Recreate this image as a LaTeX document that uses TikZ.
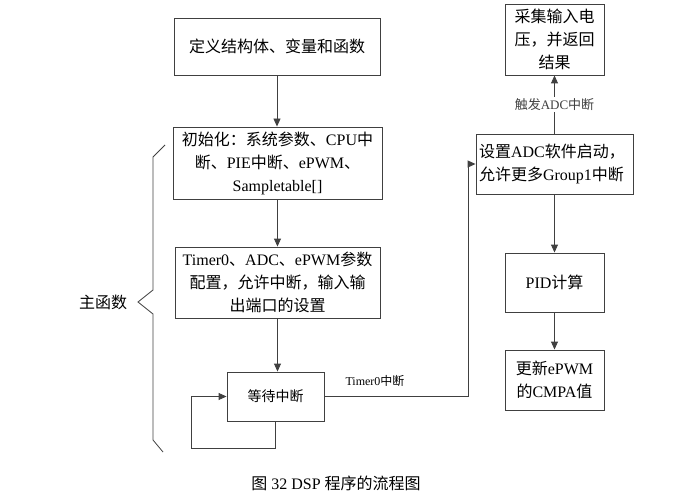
\documentclass[tikz,border=0pt]{standalone}
\usepackage{fontspec}
\setmainfont{Liberation Serif}
\newfontfamily\cjk{Noto Sans CJK SC}
\newcommand{\zh}[1]{{\cjk #1}}
\usetikzlibrary{arrows.meta}
\definecolor{flowgray}{RGB}{64,64,64}

\begin{document}
\begin{tikzpicture}[x=1pt, y=-1pt,
  box/.style={draw=flowgray, line width=0.9pt, inner sep=1pt, align=center,
    font=\fontsize{16}{23}\selectfont},
  arr/.style={-{Triangle[length=8pt,width=7pt]}, flowgray, line width=0.9pt}]
\useasboundingbox (0,0) rectangle (698,497);

% Main function column
\node[box, minimum width=206pt, minimum height=57pt, text width=200pt] (def) at (277,46.5)
  {\zh{定义结构体、变量和函数}};
\node[box, minimum width=209pt, minimum height=72pt, text width=205pt] (init) at (277.5,163)
  {\zh{初始化：系统参数、}CPU\zh{中}\\\zh{断、}PIE\zh{中断、}ePWM\zh{、}\\Sampletable[]};
\node[box, minimum width=205pt, minimum height=71pt, text width=201pt] (cfg) at (277.5,282.5)
  {Timer0\zh{、}ADC\zh{、}ePWM\zh{参数}\\\zh{配置，允许中断，输入输}\\\zh{出端口的设置}};
\node[box, minimum width=97pt, minimum height=49pt, font=\fontsize{14}{16}\selectfont] (wait) at (275.5,396.5)
  {\zh{等待中断}};

% Interrupt service column
\node[box, minimum width=157pt, minimum height=60pt, text width=151pt, align=left] (adc) at (554.5,164)
  {\zh{设置}ADC\zh{软件启动，}\\\zh{允许更多}Group1\zh{中断}};
\node[box, minimum width=99pt, minimum height=71pt, text width=93pt] (sample) at (554.5,39.5)
  {\zh{采集输入电}\\\zh{压，并返回}\\\zh{结果}};
\node[box, minimum width=99pt, minimum height=59pt, text width=93pt] (pid) at (554.5,282.5)
  {PID\zh{计算}};
\node[box, minimum width=99pt, minimum height=60pt, text width=93pt] (cmp) at (554.5,380)
  {\zh{更新}ePWM\\\zh{的}CMPA\zh{值}};

% Arrows
\draw[arr] (def) -- (def |- init.north);
\draw[arr] (init) -- (init |- cfg.north);
\draw[arr] (cfg.south) -- (cfg.south |- wait.north);
\coordinate (loop) at (191,448);
\draw[arr] (wait.south) |- (loop) |- (wait.west);
\coordinate (tbend) at (468,396.5);
\draw[arr] (wait.east) -- (tbend) |- (adc.west);
\node[font=\fontsize{12}{14}\selectfont] (tlbl) at (375,381) {Timer0\zh{中断}};
\draw[arr] (adc.north) -- (sample.south)
  node[midway, fill=white, inner sep=1pt, font=\fontsize{13}{15}\selectfont] {\zh{触发}ADC\zh{中断}};
\draw[arr] (adc.south) -- (pid.north);
\draw[arr] (pid.south) -- (cmp.north);

% Brace
\draw[flowgray, line width=0.8pt] (165,145) -- (153,157) -- (153,290) -- (138,302)
  -- (153,314) -- (153,440) -- (163,452);
\node[font=\fontsize{16}{18}\selectfont] (mainfn) at (103,302) {\zh{主函数}};

% Caption
\node[font=\fontsize{16}{18}\selectfont] (cap) at (336,483) {\zh{图} 32 DSP \zh{程序的流程图}};

\end{tikzpicture}
\end{document}
